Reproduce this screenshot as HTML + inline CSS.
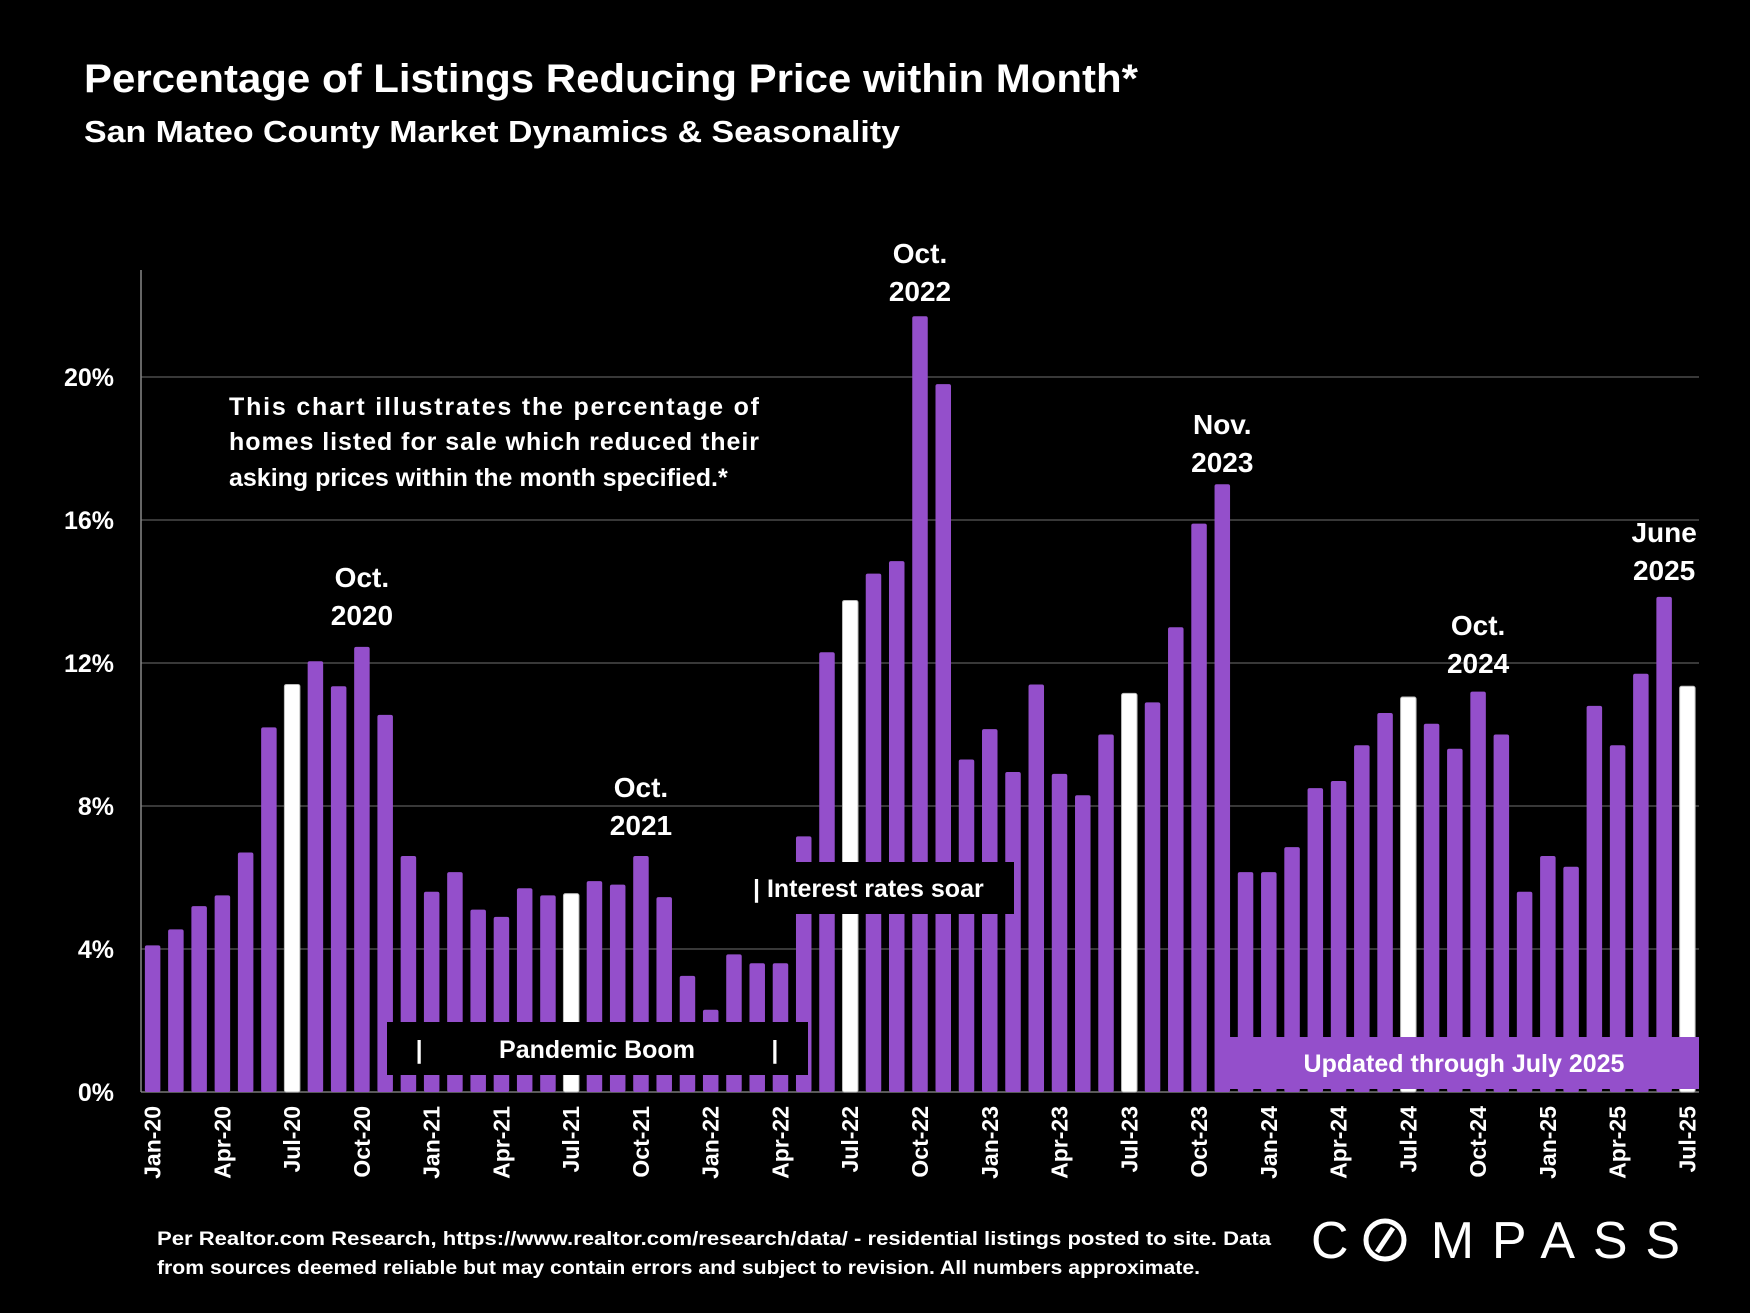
<!DOCTYPE html>
<html><head><meta charset="utf-8"><style>
html,body{margin:0;padding:0;background:#000;}
svg{display:block;font-family:"Liberation Sans",sans-serif;font-weight:bold;}
</style></head><body>
<svg id="chart" width="1750" height="1313" viewBox="0 0 1750 1313" xmlns="http://www.w3.org/2000/svg">
<rect width="1750" height="1313" fill="#000"/>
<text x="84" y="92" fill="#fff" font-size="40" textLength="1054" lengthAdjust="spacingAndGlyphs">Percentage of Listings Reducing Price within Month*</text>
<text x="84" y="142" fill="#fff" font-size="31" textLength="816" lengthAdjust="spacingAndGlyphs">San Mateo County Market Dynamics &amp; Seasonality</text>
<g id="grid"></g>
<g id="yticks"></g>
<g id="bars"></g>
<g id="xticks"></g>
<g fill="#fff" font-size="25">
<text x="229" y="415" textLength="530" lengthAdjust="spacing">This chart illustrates the percentage of</text>
<text x="229" y="450" textLength="530" lengthAdjust="spacing">homes listed for sale which reduced their</text>
<text x="229" y="486">asking prices within the month specified.*</text>
</g>
<g>
<rect x="387" y="1022" width="421" height="53" fill="#000"/>
<text x="597" y="1058" fill="#fff" font-size="25" text-anchor="middle">|&#160;&#160;&#160;&#160;&#160;&#160;&#160;&#160;&#160;&#160;&#160;Pandemic Boom&#160;&#160;&#160;&#160;&#160;&#160;&#160;&#160;&#160;&#160;&#160;|</text>
</g>
<g>
<rect x="745" y="862" width="269" height="52" fill="#000"/>
<text x="753" y="897" fill="#fff" font-size="25">| Interest rates soar</text>
</g>
<g>
<rect x="1216" y="1037" width="483" height="52" fill="#944fcb"/>
<text x="1464" y="1072" fill="#fff" font-size="25" text-anchor="middle">Updated through July 2025</text>
</g>
<g id="annots" fill="#fff" font-size="28" text-anchor="middle"></g>
<g fill="#fff" font-size="19">
<text x="157" y="1245" textLength="1114" lengthAdjust="spacingAndGlyphs">Per Realtor.com Research, https://www.realtor.com/research/data/ - residential listings posted to site.  Data</text>
<text x="157" y="1274" textLength="1043" lengthAdjust="spacingAndGlyphs">from sources deemed reliable but may contain errors and subject to revision. All numbers approximate.</text>
</g>
<g fill="#fff">
<text x="1311" y="1258" font-size="52" font-weight="normal" textLength="369" lengthAdjust="spacing">C&#160;&#160;MPASS</text>
<circle cx="1385" cy="1240" r="19" fill="none" stroke="#fff" stroke-width="5"/>
<line x1="1377" y1="1252" x2="1393" y2="1228" stroke="#fff" stroke-width="5"/>
</g>
</svg>
<script>
const months = ["Jan","Feb","Mar","Apr","May","Jun","Jul","Aug","Sep","Oct","Nov","Dec"];
const categories = [];
for (let y = 20; y <= 25; y++) for (let m = 0; m < 12; m++) { if (y === 25 && m > 6) break; categories.push(months[m] + "-" + y); }
const values = [4.1,4.55,5.2,5.5,6.7,10.2,11.4,12.05,11.35,12.45,10.55,6.6,
5.6,6.15,5.1,4.9,5.7,5.5,5.55,5.9,5.8,6.6,5.45,3.25,
2.3,3.85,3.6,3.6,7.15,12.3,13.75,14.5,14.85,21.7,19.8,9.3,
10.15,8.95,11.4,8.9,8.3,10.0,11.15,10.9,13.0,15.9,17.0,6.15,
6.15,6.85,8.5,8.7,9.7,10.6,11.05,10.3,9.6,11.2,10.0,5.6,
6.6,6.3,10.8,9.7,11.7,13.85,11.35];
const yTicks = [0,4,8,12,16,20];
const yTickLabels = ["0%","4%","8%","12%","16%","20%"];
const annotations = [["Oct-20","Oct.","2020",577],["Oct-21","Oct.","2021",787],["Oct-22","Oct.","2022",253],["Nov-23","Nov.","2023",424],["Oct-24","Oct.","2024",625],["Jun-25","June","2025",532]];

const NS = "http://www.w3.org/2000/svg";
const X0 = 141, X1 = 1699, Y0 = 1092, YTOP = 270;
const band = (X1 - X0) / categories.length;
const xC = i => X0 + band * (i + 0.5);
const yS = v => Y0 - v * (Y0 - 377) / 20;
function mk(tag, attrs, parent) { const e = document.createElementNS(NS, tag); for (const k in attrs) e.setAttribute(k, attrs[k]); parent.appendChild(e); return e; }

const grid = document.getElementById("grid");
yTicks.forEach((t, i) => {
  const l = mk("line", {x1: X0, x2: X1, y1: yS(t), y2: yS(t), stroke: t === 0 ? "#777" : "#4a4a4a", "stroke-width": 1.5}, grid);
  
  
  const tx = mk("text", {x: 114, y: yS(t) + 9, fill: "#fff", "font-size": 25, "text-anchor": "end"}, document.getElementById("yticks"));
  tx.textContent = yTickLabels[i];
  
  
});
const ax = mk("line", {x1: X0, x2: X0, y1: YTOP, y2: Y0, stroke: "#888", "stroke-width": 1.5}, grid);



const bars = document.getElementById("bars");
const bw = 15.5;
categories.forEach((c, i) => {
  const white = c.startsWith("Jul");
  const r = mk("rect", {x: xC(i) - bw / 2, y: yS(values[i]), width: bw, height: Y0 - yS(values[i]), rx: 2, fill: white ? "#fff" : "#944fcb", stroke: white ? "#bbb" : "none", "stroke-width": 1}, bars);
  
  
  if (i % 3 === 0) {
    const t = mk("text", {x: 0, y: 0, fill: "#fff", "font-size": 23, "text-anchor": "end", transform: `translate(${xC(i) + 8},1106) rotate(-90)`}, document.getElementById("xticks"));
    t.textContent = c;
    
    
  }
});

const ann = document.getElementById("annots");
annotations.forEach(a => {
  const i = categories.indexOf(a[0]);
  const t1 = mk("text", {x: xC(i), y: a[3] + 10}, ann);
  t1.textContent = a[1];
  
  
  const t2 = mk("text", {x: xC(i), y: a[3] + 48}, ann);
  t2.textContent = a[2];
  
  
});
</script>
</body></html>
